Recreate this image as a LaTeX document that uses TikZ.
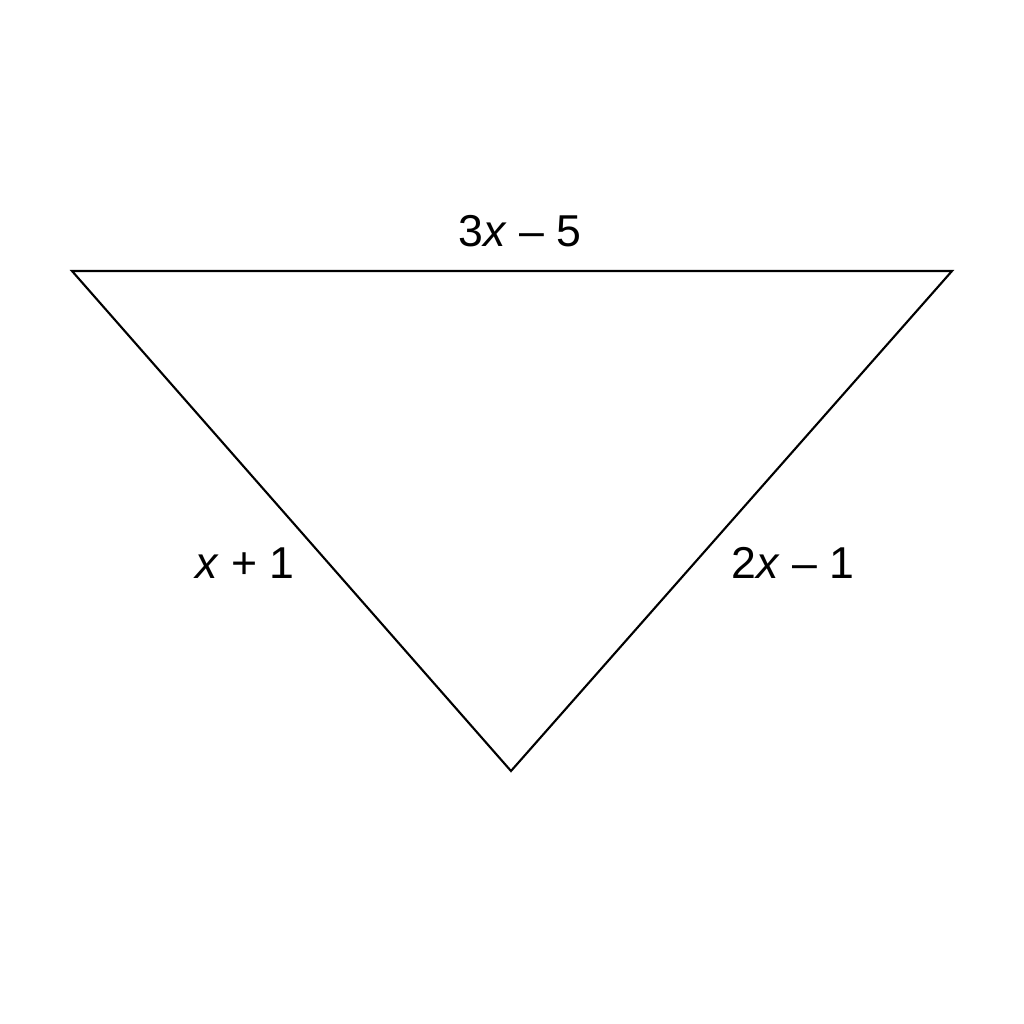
\documentclass[tikz,border=0pt]{standalone}
\usepackage{fontspec}
\setmainfont{Liberation Sans}
\begin{document}
\begin{tikzpicture}[
  side/.style={line width=0.6pt, line join=miter},
  sidelabel/.style={font=\fontsize{12.7}{15}\selectfont}
  ]
  \useasboundingbox (0, 0) rectangle (10.24, 10.24);
  \coordinate (tl) at (0.72, 7.53);
  \coordinate (tr) at (9.52, 7.53);
  \coordinate (bot) at (5.11, 2.53);
  \draw[side] (tl) -- (tr) -- (bot) -- cycle;
  \node[sidelabel] (top) at (5.20, 7.93) {3\textit{x} – 5};
  \node[sidelabel] (left) at (2.45, 4.61) {\textit{x} + 1};
  \node[sidelabel] (right) at (7.93, 4.61) {2\textit{x} – 1};
\end{tikzpicture}
\end{document}
